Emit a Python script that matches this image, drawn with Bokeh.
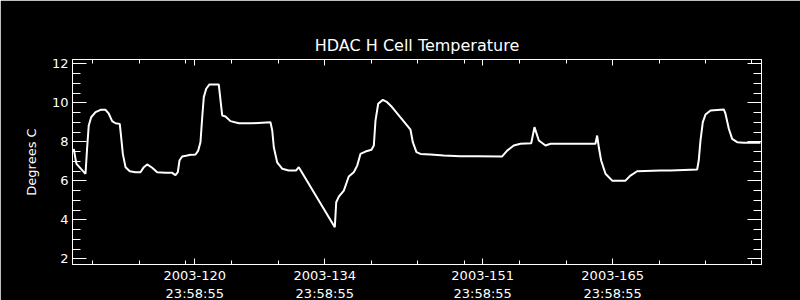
from bokeh.plotting import figure
from bokeh.models import Range1d, FixedTicker, SingleIntervalTicker, LinearAxis
from bokeh.embed import file_html
from bokeh.resources import INLINE

title = "HDAC H Cell Temperature"
y_label = "Degrees C"

days = [106.97, 107.15, 107.26, 108.23, 108.41, 108.58, 108.84, 109.31, 109.85, 110.39,
        110.74, 111.10, 111.46, 111.92, 112.07, 112.25, 112.54, 113.00, 113.61, 114.15,
        114.51, 114.87, 115.41, 115.95, 116.84, 117.57, 117.92, 118.17, 118.35, 118.64,
        119.18, 119.54,
        119.72, 120.08, 120.37, 120.61, 120.80, 120.97, 121.23, 121.58, 122.58, 122.77,
        122.95, 123.31, 123.84, 124.74, 126.18, 128.15, 128.34, 128.51, 128.87, 129.41,
        130.12, 130.92, 131.20,
        135.08, 135.23, 135.51, 136.05, 136.58, 137.12, 137.49, 137.84, 138.38, 139.03,
        139.28, 139.46, 139.75, 140.25, 140.72, 141.26, 143.23,
        143.48, 143.87, 144.30, 145.38, 146.81, 148.61, 150.41, 153.10, 153.64, 154.35,
        155.07, 156.23, 156.58, 157.05, 157.77, 158.31, 159.74, 163.15,
        163.33, 163.51, 163.76, 164.23, 164.95, 166.38, 166.92, 167.64, 170.15, 171.23,
        174.10, 174.27, 174.46, 174.71, 175.00, 175.54, 176.97, 177.15, 177.51, 177.87,
        178.41, 179.12, 180.92]

temps = [7.64, 7.13, 6.87, 6.36, 7.72, 8.84, 9.26, 9.52, 9.64, 9.64,
         9.44, 9.06, 8.95, 8.92, 8.24, 7.38, 6.70, 6.49, 6.44, 6.44,
         6.70, 6.84, 6.67, 6.44, 6.41, 6.41, 6.29, 6.44, 7.04, 7.25,
         7.30, 7.34,
         7.33, 7.35, 7.55, 7.98, 9.26, 10.29, 10.72, 10.94, 10.94, 10.12,
         9.35, 9.30, 9.06, 8.95, 8.95, 9.00, 8.58, 7.72, 6.95, 6.62,
         6.53, 6.53, 6.70,
         3.62, 4.90, 5.19, 5.50, 6.22, 6.44, 6.78, 7.38, 7.50, 7.59,
         7.81, 9.09, 9.95, 10.15, 10.03, 9.77, 8.62,
         7.98, 7.47, 7.38, 7.35, 7.30, 7.26, 7.26, 7.25, 7.55, 7.81,
         7.90, 7.93, 8.75, 8.07, 7.81, 7.90, 7.90, 7.90,
         8.32, 7.72, 7.04, 6.36, 6.01, 6.01, 6.27, 6.49, 6.53, 6.53,
         6.58, 7.04, 8.07, 9.01, 9.40, 9.61, 9.66, 9.44, 8.67, 8.15,
         7.98, 7.95, 7.95]

major_days = [120, 134, 151, 165]
major_labels = ["2003-120\n23:58:55", "2003-134\n23:58:55",
                "2003-151\n23:58:55", "2003-165\n23:58:55"]
minor_days = [109, 114, 119, 124, 129, 139, 144, 149, 155, 160, 170, 175, 180]
y_major = [2, 4, 6, 8, 10, 12]

FONT = "DejaVu Sans"

p = figure(frame_width=689, frame_height=205,
           min_border_left=72, min_border_right=39,
           min_border_top=59, min_border_bottom=36,
           x_range=Range1d(106.83, 181.03), y_range=Range1d(1.71, 12.22),
           x_axis_location=None, y_axis_location=None,
           output_backend="svg", toolbar_location=None, title=title)

p.background_fill_color = "black"
p.border_fill_color = "black"
p.outline_line_color = "white"
p.xgrid.visible = False
p.ygrid.visible = False

p.title.text_color = "white"
p.title.text_font = FONT
p.title.text_font_size = "16px"
p.title.text_font_style = "normal"
p.title.align = "center"

xt = FixedTicker(ticks=major_days, minor_ticks=minor_days)
yt = SingleIntervalTicker(interval=2, num_minor_ticks=4)


def style(ax):
    ax.axis_line_color = "white"
    ax.major_tick_line_color = "white"
    ax.minor_tick_line_color = "white"
    ax.major_tick_out = 0
    ax.minor_tick_out = 0
    ax.major_label_text_color = "white"
    ax.major_label_text_font = FONT
    ax.major_label_text_font_size = "13px"
    ax.axis_label_text_color = "white"
    ax.axis_label_text_font = FONT
    ax.axis_label_text_font_size = "13px"
    ax.axis_label_text_font_style = "normal"


bottom = LinearAxis(ticker=xt)
style(bottom)
bottom.major_tick_in = 6
bottom.minor_tick_in = 4
bottom.major_label_standoff = 3
bottom.major_label_overrides = {d: lab for d, lab in zip(major_days, major_labels)}
p.add_layout(bottom, "below")

top = LinearAxis(ticker=xt)
style(top)
top.major_tick_in = 6
top.minor_tick_in = 4
top.major_label_standoff = 0
top.major_label_overrides = {d: "" for d in major_days}
p.add_layout(top, "above")

left = LinearAxis(ticker=yt, axis_label=y_label)
style(left)
left.major_tick_in = 14
left.minor_tick_in = 8
left.major_label_standoff = 4
left.axis_label_standoff = 10
p.add_layout(left, "left")

right = LinearAxis(ticker=yt)
style(right)
right.major_tick_in = 14
right.minor_tick_in = 8
right.major_label_standoff = 0
right.major_label_overrides = {v: "" for v in y_major}
p.add_layout(right, "right")

p.line(days, temps, line_color="white", line_width=2)

open("out.html", "w").write(file_html(p, INLINE))
